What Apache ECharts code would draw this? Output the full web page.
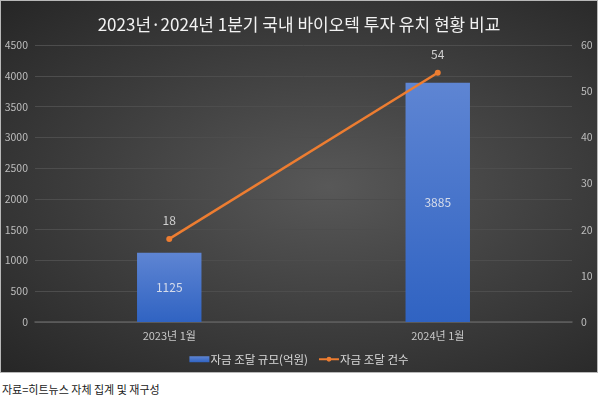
<!DOCTYPE html>
<html>
<head>
<meta charset="utf-8">
<script src="https://cdn.jsdelivr.net/npm/echarts@6/dist/echarts.min.js"></script>
<style>
  html, body { margin: 0; padding: 0; background: #ffffff; width: 600px; height: 398px; overflow: hidden; }
  #chart {
    position: absolute; left: 0; top: 0; width: 598px; height: 373px;
    box-sizing: border-box; border: 1px solid #b8b8b8;
    background: radial-gradient(ellipse at 55% 50%, #585858 0%, #3c3c3c 55%, #262626 100%);
  }
  #src {
    position: absolute; left: 2px; top: 381px;
    font-family: "Noto Sans CJK KR", sans-serif; font-size: 11px; color: #222;
  }
</style>
</head>
<body>
<div id="chart"></div>
<div id="src">자료=히트뉴스 자체 집계 및 재구성</div>
<script>
const categories = ['2023년 1월', '2024년 1월'];
const fundingAmount = [1125, 3885];
const fundingCount = [18, 54];
const leftTicks = { min: 0, max: 4500, interval: 500 };
const rightTicks = { min: 0, max: 60, interval: 10 };
const titleText = '2023년·2024년 1분기 국내 바이오텍 투자 유치 현황 비교';
const seriesNames = ['자금 조달 규모(억원)', '자금 조달 건수'];

const font = '"Noto Sans CJK KR", "Noto Sans", sans-serif';
const chart = echarts.init(document.getElementById('chart'));
chart.setOption({
  backgroundColor: 'transparent',
  textStyle: { fontFamily: font },
  title: {
    text: titleText, left: 'center', top: 10,
    textStyle: { color: '#f2f2f2', fontSize: 17, fontWeight: 'normal', fontFamily: font }
  },
  grid: { left: 34, right: 25, top: 44, bottom: 50 },
  legend: {
    bottom: 2, left: 'center', itemWidth: 20, itemHeight: 6, itemGap: 10,
    textStyle: { color: '#d9d9d9', fontSize: 11.5, padding: [0, 0, 0, -4] },
    data: [
      { name: seriesNames[0], icon: 'rect' },
      { name: seriesNames[1] }
    ]
  },
  xAxis: {
    type: 'category', data: categories,
    axisLine: { lineStyle: { color: '#5f5f5f', width: 1.5 } },
    axisTick: { show: false },
    axisLabel: { color: '#c8c8c8', fontSize: 11, margin: 8 }
  },
  yAxis: [
    {
      type: 'value', min: leftTicks.min, max: leftTicks.max, interval: leftTicks.interval,
      axisLabel: { color: '#bdbdbd', fontSize: 10.5, margin: 7, formatter: function (v) { return String(v); } },
      axisLine: { show: false }, axisTick: { show: false },
      splitLine: { lineStyle: { color: '#4d4d4d', width: 1 } }
    },
    {
      type: 'value', min: rightTicks.min, max: rightTicks.max, interval: rightTicks.interval,
      position: 'right',
      axisLabel: { color: '#bdbdbd', fontSize: 10.5, margin: 9, formatter: function (v) { return String(v); } },
      axisLine: { show: false }, axisTick: { show: false },
      splitLine: { show: false }
    }
  ],
  series: [
    {
      name: seriesNames[0], type: 'bar', data: fundingAmount, yAxisIndex: 0,
      barWidth: '24%',
      itemStyle: {
        color: new echarts.graphic.LinearGradient(0, 0, 0, 1, [
          { offset: 0, color: '#5e85d3' },
          { offset: 1, color: '#3063c2' }
        ])
      },
      label: { show: true, position: 'inside', color: '#d6dcea', fontSize: 12 }
    },
    {
      name: seriesNames[1], type: 'line', data: fundingCount, yAxisIndex: 1,
      symbol: 'circle', symbolSize: 6,
      lineStyle: { color: '#ed7d31', width: 2.5 },
      itemStyle: { color: '#ed7d31' },
      label: { show: true, position: 'top', distance: 9, color: '#d0d0d0', fontSize: 12 }
    }
  ]
});
</script>
</body>
</html>
